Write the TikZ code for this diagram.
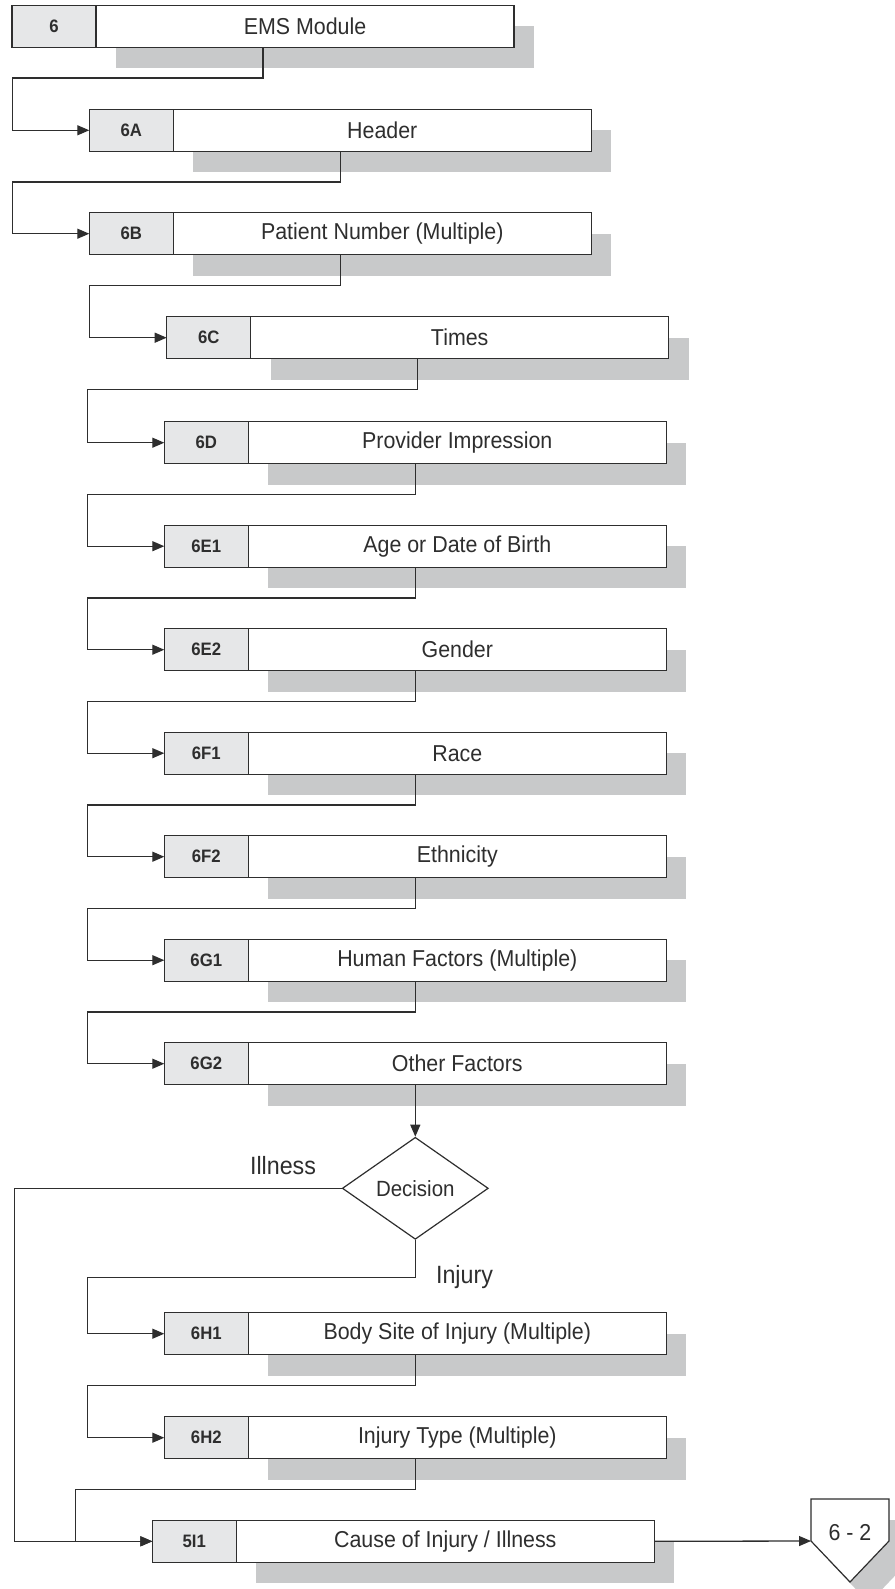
\documentclass[tikz,border=0pt]{standalone}
\usepackage{fontspec}
\setmainfont{Liberation Sans}[FakeStretch=0.93]
\usetikzlibrary{shapes.geometric,arrows.meta}
\definecolor{linec}{HTML}{2E2E2E}
\definecolor{cellgray}{HTML}{E6E7E8}
\definecolor{shadegray}{HTML}{C8C9CA}
\begin{document}
\begin{tikzpicture}[x=1pt,y=-1pt,
  box/.style={draw=linec,fill=white,line width=1.2pt,minimum width=502pt,minimum height=42pt,inner sep=0pt,outer sep=0pt},
  cell/.style={draw=linec,fill=cellgray,line width=1.2pt,anchor=west,minimum width=84pt,minimum height=42pt,inner sep=0pt,outer sep=0pt,font=\fontsize{18}{18}\selectfont\bfseries,text=linec},
  field/.style={anchor=west,minimum width=418pt,minimum height=42pt,inner sep=0pt,outer sep=0pt,font=\fontsize{23}{23}\selectfont,text=linec},
  link/.style={draw=linec,line width=1.3pt,-{Triangle[length=12pt,width=10pt]}},
  lbl/.style={font=\fontsize{25}{25}\selectfont,text=linec,inner sep=0pt,anchor=base}]

\useasboundingbox (0,0) rectangle (894,1589);

\foreach \id/\x/\y/\txt in {6/263/26.3/{EMS Module},6A/340.3/130.3/{Header},
  6B/340.3/233.7/{Patient Number (Multiple)},6C/417.7/337.7/{Times},
  6D/415.3/442.7/{Provider Impression},6E1/415.3/546.2/{Age or Date of Birth},
  6E2/415.3/649.7/{Gender},6F1/415.3/753.2/{Race},6F2/415.3/856.7/{Ethnicity},
  6G1/415.3/960.2/{Human Factors (Multiple)},6G2/415.3/1063.7/{Other Factors},
  6H1/415.3/1333.7/{Body Site of Injury (Multiple)},6H2/415.3/1437.7/{Injury Type (Multiple)},
  5I1/403.3/1541.3/{Cause of Injury / Illness}}{
  \fill[shadegray] (\x-147,\y) rectangle (\x+271,\y+42);
  \node[box] (b\id) at (\x,\y) {};
  \node[cell] (c\id) at (b\id.west) {\id};
  \node[field] (t\id) at (c\id.east) {\txt};
}

\foreach \a/\b in {6/6A,6A/6B,6B/6C,6C/6D,6D/6E1,6E1/6E2,6E2/6F1,6F1/6F2,6F2/6G1,6G1/6G2,6H1/6H2,6H2/5I1}
  \draw[link] (b\a.south) -- ++(0,30.7) -| ([xshift=-77pt]b\b.west) -- (b\b.west);

\node[draw=linec,fill=white,line width=1.2pt,diamond,minimum width=146pt,minimum height=102pt,inner sep=0pt,font=\fontsize{22}{22}\selectfont,text=linec] (dec) at (415.3,1188.3) {Decision};
\draw[link] (b6G2.south) -- (dec.north);
\draw[link] (dec.west) -| ([xshift=-138pt]b5I1.west) -- (b5I1.west);
\draw[link] (dec.south) -- ++(0,37.4) -| ([xshift=-77pt]b6H1.west) -- (b6H1.west);
\node[lbl] (ill) at (283,1174) {Illness};
\node[lbl] (inj) at (464.5,1283) {Injury};

\coordinate (pg) at (811,1541);
\fill[shadegray] (830,1520) -- (908,1520) -- (908,1562) -- (869,1603) -- (830,1562) -- cycle;
\draw[linec,line width=1.2pt,fill=white] (811,1499) -- (889,1499) -- (889,1541) -- (850,1582) -- (pg) -- cycle;
\node[lbl,font=\fontsize{23}{23}\selectfont] (pgt) at (850,1540) {6 - 2};
\draw[link] (b5I1.east) -- (pg);

\end{tikzpicture}
\end{document}
